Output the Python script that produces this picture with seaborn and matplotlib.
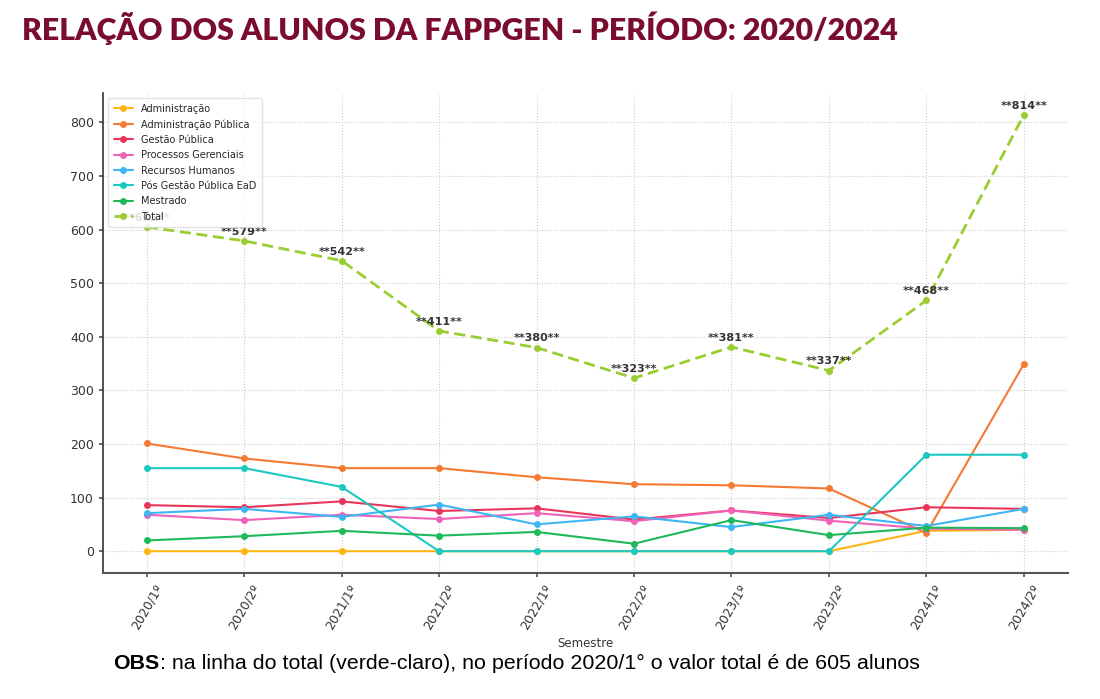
import matplotlib
matplotlib.use("Agg")
import matplotlib.pyplot as plt
import seaborn as sns
import pandas as pd

semestres = ["2020/1º", "2020/2º", "2021/1º", "2021/2º", "2022/1º",
             "2022/2º", "2023/1º", "2023/2º", "2024/1º", "2024/2º"]

administracao = [0, 0, 0, 0, 0, 0, 0, 0, 38, 40]
adm_publica = [201, 173, 155, 155, 138, 125, 123, 117, 34, 349]
gestao_publica = [86, 82, 93, 75, 80, 59, 76, 62, 82, 79]
processos_gerenciais = [68, 58, 68, 60, 71, 56, 76, 57, 42, 40]
recursos_humanos = [71, 79, 64, 87, 50, 65, 45, 68, 47, 79]
pos_gestao_ead = [155, 155, 120, 0, 0, 0, 0, 0, 180, 180]
mestrado = [20, 28, 38, 29, 36, 14, 58, 30, 44, 43]
total = [605, 579, 542, 411, 380, 323, 381, 337, 468, 814]

series_names = ["Administração", "Administração Pública", "Gestão Pública",
                "Processos Gerenciais", "Recursos Humanos",
                "Pós Gestão Pública EaD", "Mestrado", "Total"]
series_values = [administracao, adm_publica, gestao_publica,
                 processos_gerenciais, recursos_humanos, pos_gestao_ead,
                 mestrado, total]
colors = ["#FDB515", "#F47A33", "#E8365A", "#F062B8", "#3DB6F2",
          "#1CC8C2", "#1DB95A", "#9ACD32"]

sns.set_theme(style="whitegrid")
plt.rcParams['font.family'] = ['DejaVu Sans']

fig = plt.figure(figsize=(11, 6.99), dpi=100)
ax = fig.add_axes([0.0936, 0.180, 0.877, 0.687])

for name, vals, col in zip(series_names, series_values, colors):
    df = pd.DataFrame({"Semestre": semestres, "Alunos": vals})
    is_total = name == "Total"
    sns.lineplot(data=df, x="Semestre", y="Alunos", ax=ax, color=col,
                 marker="o", markersize=5, markeredgewidth=0,
                 linewidth=2.0 if is_total else 1.5,
                 label=name, sort=False)
    if is_total:
        ax.lines[-1].set_dashes([4, 2])

for i, v in enumerate(total):
    ax.annotate(f"**{v}**", (i, v), xytext=(0, 3), textcoords="offset points",
                ha="center", va="bottom", fontsize=8, fontweight="bold",
                color="#333333", zorder=2)

ax.set_facecolor("white")
ax.grid(True, linestyle=":", color="#cccccc", linewidth=0.8)
for s in ["top", "right"]:
    ax.spines[s].set_visible(False)
ax.spines["left"].set_color("#333333")
ax.spines["bottom"].set_color("#555555")
ax.spines["left"].set_linewidth(1.2)
ax.spines["bottom"].set_linewidth(1.5)
ax.tick_params(axis="both", which="both", length=3, color="#555555",
               labelsize=9, labelcolor="#333333", left=True, bottom=True)
ax.set_yticks([0, 100, 200, 300, 400, 500, 600, 700, 800])
ax.set_xticks(range(len(semestres)))
ax.set_xticklabels(semestres, rotation=60, ha="center")
ax.set_xlabel("Semestre", fontsize=8.5, color="#333333")
ax.set_ylabel("")
ax.set_xlim(-0.45, 9.45)
ax.set_ylim(-41, 855)

leg = ax.legend(loc="upper left", fontsize=7, frameon=True, framealpha=0.85,
                borderpad=0.6, labelspacing=0.55)
leg.get_frame().set_edgecolor("#dddddd")
leg.set_zorder(10)
for line in leg.get_lines():
    if line.get_label() == "Total":
        line.set_dashes([4, 2])

fig.text(0.020, 0.960, "RELAÇÃO DOS ALUNOS DA FAPPGEN - PERÍODO: 2020/2024",
         fontsize=21.8, fontweight="heavy", family="Lato", color="#7A0C2E",
         ha="left", va="center")

renderer = fig.canvas.get_renderer()
t1 = fig.text(0.103, 0.051, "OBS", fontsize=15.4, fontweight="bold",
              family="Liberation Sans", color="black", ha="left", va="center")
bb = t1.get_window_extent(renderer=renderer)
x_next = bb.x1 / fig.bbox.width
fig.text(x_next, 0.051,
         ": na linha do total (verde-claro), no período 2020/1° o valor total é de 605 alunos",
         fontsize=15.4, family="Liberation Sans", color="black", ha="left",
         va="center")

fig.savefig("out.png", dpi=100, facecolor="white")
